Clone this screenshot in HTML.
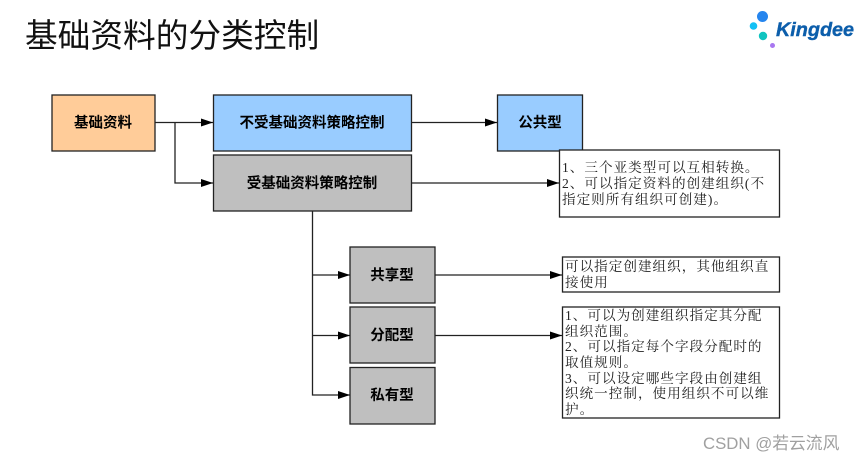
<!DOCTYPE html>
<html lang="zh"><head><meta charset="utf-8">
<style>
html,body{margin:0;padding:0;background:#fff}
body{width:855px;height:461px;overflow:hidden;position:relative}
svg{position:absolute;left:0;top:0}
.s{font-family:"Liberation Sans","Noto Sans CJK SC",sans-serif}
.b{font-family:"Liberation Sans","Noto Sans CJK SC",sans-serif;font-weight:700;font-size:14.5px;text-anchor:middle;fill:#000}
.n{font-family:"Liberation Serif","Noto Serif CJK SC",serif;font-size:13.6px;fill:#222;letter-spacing:1px}
</style></head><body>
<svg width="855" height="461" viewBox="0 0 855 461">
<defs><marker id="a" markerUnits="userSpaceOnUse" markerWidth="12" markerHeight="8" refX="12" refY="4" orient="auto"><path d="M0 0L12 4L0 8Z" fill="#000"/></marker></defs>
<text class="s" x="25" y="47" font-size="32.700" fill="#111">基础资料的分类控制</text>
<circle cx="762.500" cy="16.500" r="5.500" fill="#2585ee"/><circle cx="753.500" cy="26" r="3.800" fill="#12c0f5"/><circle cx="763" cy="36" r="4.200" fill="#10c4c0"/><circle cx="772.500" cy="45.500" r="2.500" fill="#a877f0"/>
<text x="776" y="36" font-family="Liberation Sans,sans-serif" font-size="19.800" font-weight="700" font-style="italic" fill="#0c5eab" stroke="#0c5eab" stroke-width=".4">Kingdee</text>
<g fill="none" stroke="#222" stroke-width="1.300">
<rect x="52" y="95" width="103" height="56" fill="#ffcc99"/>
<rect x="213.500" y="95" width="198" height="56" fill="#99ccff"/>
<rect x="213.500" y="155" width="198" height="56" fill="#bfbfbf"/>
<rect x="497.500" y="95" width="85" height="56" fill="#99ccff"/>
<rect x="559.500" y="150" width="220" height="67" fill="#fff"/>
<rect x="350" y="247" width="85" height="56" fill="#bfbfbf"/>
<rect x="350" y="307" width="85" height="56" fill="#bfbfbf"/>
<rect x="350" y="367.500" width="85" height="56.500" fill="#bfbfbf"/>
<rect x="562.500" y="257" width="217" height="35" fill="#fff"/>
<rect x="562.500" y="307" width="217" height="111" fill="#fff"/>
<path d="M155 122.500H213" marker-end="url(#a)"/>
<path d="M175 122.500V183H213" marker-end="url(#a)"/>
<path d="M411 122.500H497" marker-end="url(#a)"/>
<path d="M411 183H559" marker-end="url(#a)"/>
<path d="M312.500 211V395H350" marker-end="url(#a)"/>
<path d="M312.500 275H350" marker-end="url(#a)"/>
<path d="M312.500 335.500H350" marker-end="url(#a)"/>
<path d="M435 275H562" marker-end="url(#a)"/>
<path d="M435 335.500H562" marker-end="url(#a)"/>
</g>
<text class="b" x="103" y="127.500">基础资料</text>
<text class="b" x="312" y="127.500">不受基础资料策略控制</text>
<text class="b" x="312" y="188">受基础资料策略控制</text>
<text class="b" x="540" y="127.500">公共型</text>
<text class="b" x="392" y="280">共享型</text>
<text class="b" x="392" y="340">分配型</text>
<text class="b" x="392" y="400">私有型</text>
<g class="n">
<text x="562" y="172">1、三个亚类型可以互相转换。</text>
<text x="562" y="188">2、可以指定资料的创建组织(不</text>
<text x="562" y="204">指定则所有组织可创建)。</text>
<text x="565" y="271">可以指定创建组织，其他组织直</text>
<text x="565" y="287">接使用</text>
<text x="565" y="320">1、可以为创建组织指定其分配</text>
<text x="565" y="336">组织范围。</text>
<text x="565" y="351">2、可以指定每个字段分配时的</text>
<text x="565" y="367">取值规则。</text>
<text x="565" y="383">3、可以设定哪些字段由创建组</text>
<text x="565" y="398">织统一控制，使用组织不可以维</text>
<text x="565" y="414">护。</text>
</g>
<text class="s" x="703" y="449" font-size="16.800" fill="#a0a0a0">CSDN @若云流风</text>
</svg>
</body></html>
